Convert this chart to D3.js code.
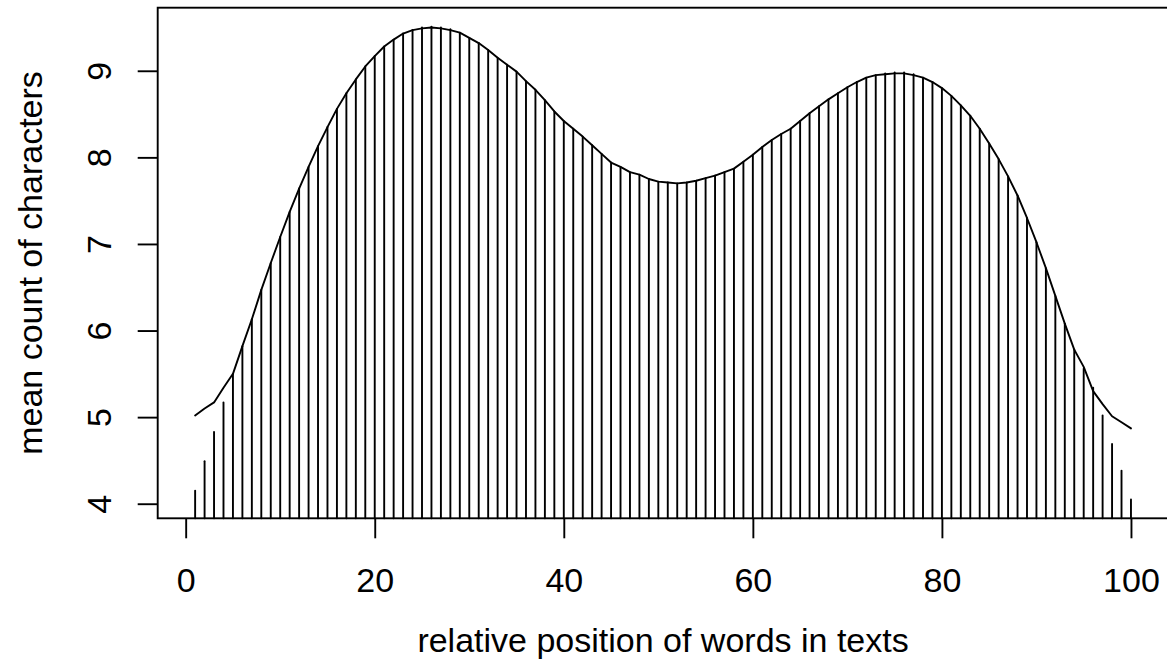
<!DOCTYPE html>
<html>
<head>
<meta charset="utf-8">
<script src="https://cdn.jsdelivr.net/npm/d3@7"></script>
<style>
  html, body { margin: 0; padding: 0; background: #fff; }
  svg { display: block; }
  text { font-family: "Liberation Sans", Arial, Helvetica, sans-serif; fill: #000; }
</style>
</head>
<body>
<svg id="chart" width="1167" height="670"></svg>
<script>
// Mean word length (characters) by relative position of the word in a text.
const positions = d3.range(1, 101);

const meanChars = [
  4.15, 4.49, 4.83, 5.17, 5.50, 5.82, 6.13, 6.47, 6.78, 7.08,
  7.37, 7.64, 7.89, 8.13, 8.35, 8.56, 8.74, 8.90, 9.05, 9.17,
  9.28, 9.36, 9.43, 9.47, 9.50, 9.51, 9.50, 9.48, 9.44, 9.38,
  9.32, 9.24, 9.15, 9.07, 8.99, 8.88, 8.78, 8.66, 8.53, 8.42,
  8.33, 8.24, 8.14, 8.04, 7.94, 7.89, 7.83, 7.80, 7.75, 7.72,
  7.71, 7.70, 7.71, 7.73, 7.76, 7.79, 7.83, 7.87, 7.95, 8.03,
  8.12, 8.20, 8.27, 8.33, 8.42, 8.51, 8.59, 8.67, 8.74, 8.81,
  8.87, 8.92, 8.95, 8.97, 8.98, 8.98, 8.96, 8.92, 8.87, 8.80,
  8.71, 8.60, 8.48, 8.33, 8.16, 7.98, 7.78, 7.56, 7.30, 7.02,
  6.72, 6.40, 6.08, 5.78, 5.56, 5.34, 5.02, 4.69, 4.38, 4.05
];

// Smoothed profile drawn over the spikes
const smoothed = [
  5.02, 5.10, 5.17, 5.34, 5.50, 5.82, 6.13, 6.47, 6.78, 7.08,
  7.37, 7.64, 7.89, 8.13, 8.35, 8.56, 8.74, 8.90, 9.05, 9.17,
  9.28, 9.36, 9.43, 9.47, 9.49, 9.50, 9.49, 9.47, 9.44, 9.38,
  9.32, 9.24, 9.15, 9.07, 8.99, 8.88, 8.78, 8.66, 8.53, 8.42,
  8.33, 8.24, 8.14, 8.04, 7.94, 7.89, 7.83, 7.80, 7.75, 7.72,
  7.71, 7.70, 7.71, 7.73, 7.76, 7.79, 7.83, 7.87, 7.95, 8.03,
  8.12, 8.20, 8.27, 8.33, 8.42, 8.51, 8.59, 8.67, 8.74, 8.81,
  8.87, 8.92, 8.95, 8.96, 8.97, 8.97, 8.95, 8.92, 8.87, 8.80,
  8.71, 8.60, 8.48, 8.33, 8.16, 7.98, 7.78, 7.56, 7.30, 7.02,
  6.72, 6.40, 6.08, 5.78, 5.58, 5.30, 5.15, 5.01, 4.94, 4.87
];

const xTicks = [0, 20, 40, 60, 80, 100];
const yTicks = [4, 5, 6, 7, 8, 9];
const xTitle = "relative position of words in texts";
const yTitle = "mean count of characters";

// Plot region (box edges)
const box = { left: 157.7, right: 1168.4, top: 7.7, bottom: 518.3 };

// Scales: data range padded by 4% on each side
const xMin = d3.min(positions), xMax = d3.max(positions);
const xPad = (xMax - xMin) * 0.04;
const x = d3.scaleLinear()
  .domain([xMin - xPad, xMax + xPad])
  .range([box.left, box.right]);

const yLo = Math.min(d3.min(meanChars), d3.min(smoothed));
const yHi = Math.max(d3.max(meanChars), d3.max(smoothed));
const yPad = (yHi - yLo) * 0.04;
const y = d3.scaleLinear()
  .domain([yLo - yPad, yHi + yPad])
  .range([box.bottom, box.top]);

const svg = d3.select("#chart");
const fontPx = 34;
const lw = 1.9;

svg.append("rect").attr("width", 1167).attr("height", 670).attr("fill", "#fff");

// Spikes from the bottom of the plot region up to each value
svg.append("g")
  .selectAll("line")
  .data(positions)
  .join("line")
  .attr("x1", (d) => x(d))
  .attr("x2", (d) => x(d))
  .attr("y1", box.bottom)
  .attr("y2", (d, i) => y(meanChars[i]))
  .attr("stroke", "#000")
  .attr("stroke-width", lw)
  .attr("stroke-linecap", "round");

// Smoothed curve
svg.append("path")
  .datum(positions)
  .attr("fill", "none")
  .attr("stroke", "#000")
  .attr("stroke-width", lw)
  .attr("stroke-linejoin", "round")
  .attr("stroke-linecap", "round")
  .attr("d", d3.line().x((d) => x(d)).y((d, i) => y(smoothed[i])));

// Frame
svg.append("rect")
  .attr("x", box.left).attr("y", box.top)
  .attr("width", box.right - box.left).attr("height", box.bottom - box.top)
  .attr("fill", "none").attr("stroke", "#000").attr("stroke-width", lw);

// X axis
const xAxis = svg.append("g")
  .attr("transform", `translate(0,${box.bottom})`)
  .call(d3.axisBottom(x).tickValues(xTicks).tickSize(20).tickPadding(0).tickFormat(d3.format("d")));
xAxis.select(".domain").remove();
xAxis.selectAll(".tick line").attr("stroke", "#000").attr("stroke-width", lw);
xAxis.selectAll(".tick text")
  .attr("y", 74).attr("dy", null)
  .style("font-size", fontPx + "px")
  .style("font-family", "'Liberation Sans', Arial, sans-serif");

// Y axis (labels parallel to the axis)
const yAxis = svg.append("g")
  .attr("transform", `translate(${box.left},0)`)
  .call(d3.axisLeft(y).tickValues(yTicks).tickSize(20).tickPadding(0).tickFormat(d3.format("d")));
yAxis.select(".domain").remove();
yAxis.selectAll(".tick line").attr("stroke", "#000").attr("stroke-width", lw);
yAxis.selectAll(".tick text")
  .attr("x", null).attr("dy", null)
  .attr("text-anchor", "middle")
  .attr("transform", "translate(-47,0) rotate(-90)")
  .style("font-size", fontPx + "px")
  .style("font-family", "'Liberation Sans', Arial, sans-serif");

// Axis titles
svg.append("text")
  .attr("x", (box.left + box.right) / 2)
  .attr("y", 652)
  .attr("text-anchor", "middle")
  .style("font-size", fontPx + "px")
  .text(xTitle);

svg.append("text")
  .attr("transform", `translate(42,${(box.top + box.bottom) / 2}) rotate(-90)`)
  .attr("text-anchor", "middle")
  .style("font-size", fontPx + "px")
  .text(yTitle);
</script>
</body>
</html>
